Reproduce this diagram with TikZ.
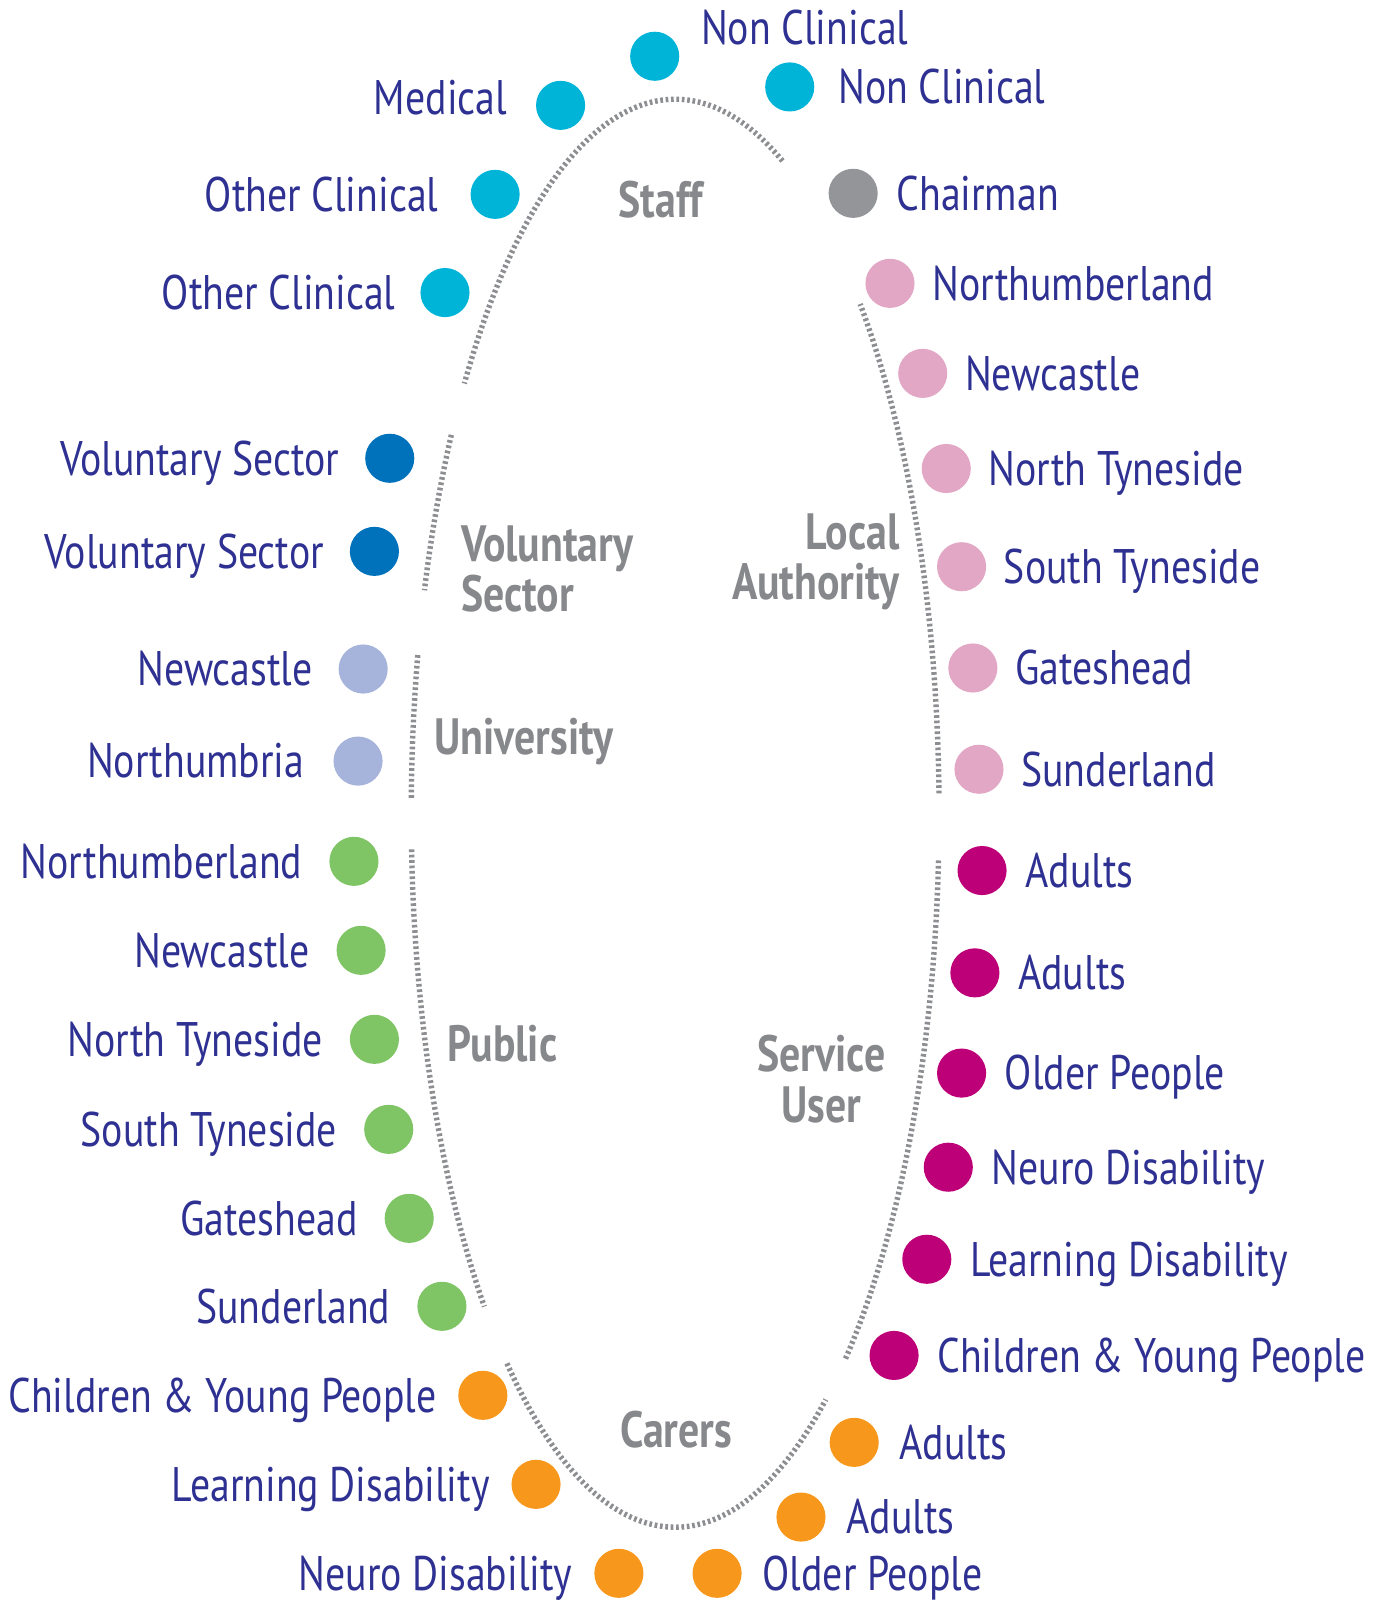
\documentclass[tikz,border=0pt]{standalone}
\usepackage{fontspec}
\setmainfont[FakeStretch=0.82]{PT Sans}
\usetikzlibrary{positioning}

\definecolor{txtblue}{RGB}{46,49,146}
\definecolor{grpgrey}{RGB}{135,136,139}
\definecolor{ringgrey}{RGB}{140,142,145}
\definecolor{staffcyan}{RGB}{0,180,216}
\definecolor{chairgrey}{RGB}{147,149,152}
\definecolor{lapink}{RGB}{226,167,197}
\definecolor{sumagenta}{RGB}{190,0,120}
\definecolor{carorange}{RGB}{247,152,29}
\definecolor{pubgreen}{RGB}{128,197,101}
\definecolor{unilav}{RGB}{166,179,218}
\definecolor{volblue}{RGB}{0,114,188}

\tikzset{
  dot/.style={circle, minimum size=0.48cm, inner sep=0pt},
  lbl/.style={text=txtblue, inner sep=0pt, text height=0.36cm, text depth=0.03cm,
    font=\fontsize{13.5}{15}\selectfont},
  grp/.style={text=grpgrey, inner sep=0pt, font=\bfseries\fontsize{14.2}{14}\selectfont},
  ring/.style={draw=ringgrey, line width=1.5pt, dash pattern=on 0.75pt off 0.75pt},
}

\begin{document}
\begin{tikzpicture}
\useasboundingbox (0,0) rectangle (13.56,-15.68);

% dotted ring
\coordinate (C) at (6.60,-7.95);
\draw[ring] ([shift={(66:2.58cm and 6.98cm)}]C) arc[start angle=66, end angle=143, x radius=2.58cm, y radius=6.98cm];
\draw[ring] ([shift={(148:2.58cm and 6.98cm)}]C) arc[start angle=148, end angle=161.8, x radius=2.58cm, y radius=6.98cm];
\draw[ring] ([shift={(167.2:2.58cm and 6.98cm)}]C) arc[start angle=167.2, end angle=178.8, x radius=2.58cm, y radius=6.98cm];
\draw[ring] ([shift={(182.9:2.58cm and 6.98cm)}]C) arc[start angle=182.9, end angle=223.7, x radius=2.58cm, y radius=6.98cm];
\draw[ring] ([shift={(230.4:2.58cm and 6.98cm)}]C) arc[start angle=230.4, end angle=304.8, x radius=2.58cm, y radius=6.98cm];
\draw[ring] ([shift={(310.2:2.58cm and 6.98cm)}]C) arc[start angle=310.2, end angle=356.3, x radius=2.58cm, y radius=6.98cm];
\draw[ring] ([shift={(1.6:2.58cm and 6.98cm)}]C) arc[start angle=1.6, end angle=45.5, x radius=2.58cm, y radius=6.98cm];

% group names
\node[grp] (gstaff) at (6.46,-1.95) {Staff};
\node[grp, align=left, anchor=west] (gvol) at (4.50,-5.56) {Voluntary\\Sector};
\node[grp, anchor=west] (guni) at (4.24,-7.25) {University};
\node[grp, align=right, anchor=east] (gla) at (8.80,-5.49) {Local\\Authority};
\node[grp, anchor=west] (gpub) at (4.37,-10.20) {Public};
\node[grp, align=center] (gsu) at (8.03,-10.55) {Service\\User};
\node[grp] (gcar) at (6.61,-13.98) {Carers};

% staff
\node[dot, fill=staffcyan] (st1) at (6.40,-0.55) {};
\node[lbl, right=0.2cm of st1, yshift=0.28cm] (st1t) {Non Clinical};
\node[dot, fill=staffcyan] (st2) at (7.72,-0.85) {};
\node[lbl, right=0.22cm of st2] (st2t) {Non Clinical};
\node[dot, fill=staffcyan] (st3) at (5.48,-1.03) {};
\node[lbl, left=0.27cm of st3, yshift=0.08cm] (st3t) {Medical};
\node[dot, fill=staffcyan] (st4) at (4.84,-1.90) {};
\node[lbl, left=0.30cm of st4] (st4t) {Other Clinical};
\node[dot, fill=staffcyan] (st5) at (4.35,-2.86) {};
\node[lbl, left=0.23cm of st5] (st5t) {Other Clinical};
\node[dot, fill=chairgrey] (ch) at (8.34,-1.89) {};
\node[lbl, right=0.17cm of ch] (cht) {Chairman};

% local authority
\foreach \x/\y/\t [count=\i] in {8.70/2.77/Northumberland, 9.02/3.65/Newcastle,
    9.25/4.58/North Tyneside, 9.40/5.54/South Tyneside, 9.51/6.53/Gateshead,
    9.57/7.52/Sunderland}
{
  \node[dot, fill=lapink] (la\i) at (\x,-\y) {};
  \node[lbl, right=0.16cm of la\i] (la\i t) {\t};
}

% service user
\foreach \x/\y/\t [count=\i] in {9.60/8.51/Adults, 9.53/9.51/Adults,
    9.40/10.49/Older People, 9.27/11.41/Neuro Disability,
    9.06/12.31/Learning Disability, 8.74/13.25/Children \& Young People}
{
  \node[dot, fill=sumagenta] (su\i) at (\x,-\y) {};
  \node[lbl, right=0.17cm of su\i] (su\i t) {\t};
}

% carers
\foreach \x/\y/\t [count=\i] in {8.35/14.10/Adults, 7.83/14.83/Adults,
    7.01/15.38/Older People}
{
  \node[dot, fill=carorange] (cr\i) at (\x,-\y) {};
  \node[lbl, right=0.19cm of cr\i] (cr\i t) {\t};
}
\foreach \x/\y/\t [count=\i] in {6.05/15.38/Neuro Disability,
    5.24/14.51/Learning Disability, 4.72/13.64/Children \& Young People}
{
  \node[dot, fill=carorange] (cl\i) at (\x,-\y) {};
  \node[lbl, left=0.20cm of cl\i] (cl\i t) {\t};
}

% public
\foreach \x/\y/\t [count=\i] in {3.46/8.42/Northumberland, 3.53/9.29/Newcastle,
    3.66/10.16/North Tyneside, 3.80/11.04/South Tyneside, 4.00/11.91/Gateshead,
    4.32/12.77/Sunderland}
{
  \node[dot, fill=pubgreen] (pb\i) at (\x,-\y) {};
  \node[lbl, left=0.25cm of pb\i] (pb\i t) {\t};
}

% university
\node[dot, fill=unilav] (un1) at (3.55,-6.54) {};
\node[lbl, left=0.24cm of un1] (un1t) {Newcastle};
\node[dot, fill=unilav] (un2) at (3.50,-7.44) {};
\node[lbl, left=0.27cm of un2] (un2t) {Northumbria};

% voluntary sector
\node[dot, fill=volblue] (vs1) at (3.81,-4.48) {};
\node[lbl, left=0.24cm of vs1] (vs1t) {Voluntary Sector};
\node[dot, fill=volblue] (vs2) at (3.66,-5.39) {};
\node[lbl, left=0.24cm of vs2] (vs2t) {Voluntary Sector};
\end{tikzpicture}
\end{document}
